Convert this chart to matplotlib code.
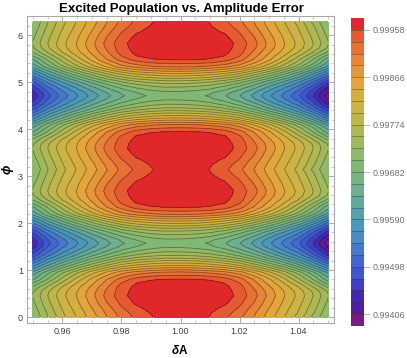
import numpy as np
import matplotlib
matplotlib.use("Agg")
import matplotlib.pyplot as plt
from matplotlib.ticker import MultipleLocator

plt.rcParams['font.family'] = ['Liberation Sans', 'DejaVu Sans']

# values, 0..pi/2 only; the picture repeats with phi
amp = [0.950, 0.955, 0.960, 0.965, 0.970, 0.975, 0.980, 0.985, 0.990, 0.995, 1.000,
       1.005, 1.010, 1.015, 1.020, 1.025, 1.030, 1.035, 1.040, 1.045, 1.050]
phi_quarter = [0, 0.1, 0.2, 0.3, 0.45, 0.55, 0.65, 0.72, 0.8, 0.87, 0.95, 1.1, 1.18, 1.25, 1.32, 1.4, 1.5, np.pi / 2]

# population as 0.99 + value / 1e5, one row per phi
pop_quarter = [
    [705, 750, 790, 823, 855, 888, 919, 940, 955, 972, 978, 972, 957, 940, 918, 888, 855, 822, 788, 745, 705],
    [710, 755, 795, 827, 860, 894, 925, 946, 960, 974, 979, 974, 960, 946, 925, 894, 860, 827, 795, 755, 710],
    [716, 761, 800, 833, 867, 902, 933, 954, 965, 977, 982, 977, 965, 954, 933, 902, 867, 833, 800, 761, 716],
    [723, 767, 806, 839, 874, 911, 941, 962, 972, 980, 984, 980, 972, 962, 941, 911, 874, 839, 806, 767, 723],
    [730, 774, 813, 845, 882, 920, 950, 970, 978, 984, 986, 984, 978, 970, 950, 920, 882, 845, 813, 774, 730],
    [725, 770, 810, 843, 879, 916, 948, 968, 976, 982, 984, 982, 976, 968, 948, 916, 879, 843, 810, 770, 725],
    [705, 752, 797, 835, 871, 908, 945, 963, 970, 975, 978, 975, 970, 963, 945, 906, 869, 833, 795, 748, 698],
    [682, 732, 780, 822, 861, 899, 936, 958, 965, 970, 972, 970, 965, 958, 936, 897, 859, 820, 777, 728, 672],
    [655, 708, 760, 808, 850, 889, 923, 945, 956, 959, 960, 959, 956, 945, 923, 887, 848, 805, 756, 703, 645],
    [640, 692, 745, 790, 832, 870, 903, 925, 935, 939, 940, 939, 935, 925, 903, 868, 829, 786, 740, 687, 630],
    [620, 673, 723, 769, 810, 847, 880, 898, 909, 915, 917, 914, 907, 896, 877, 842, 804, 762, 716, 663, 605],
    [558, 612, 659, 701, 740, 775, 805, 824, 834, 841, 842, 839, 831, 818, 797, 764, 727, 688, 645, 593, 535],
    [530, 584, 629, 669, 707, 741, 770, 789, 800, 807, 807, 804, 796, 781, 760, 727, 691, 653, 612, 560, 502],
    [503, 558, 602, 640, 677, 710, 738, 757, 768, 775, 775, 771, 763, 748, 726, 694, 658, 621, 581, 530, 472],
    [481, 536, 579, 616, 652, 684, 711, 730, 742, 748, 748, 744, 736, 720, 697, 666, 630, 594, 556, 505, 447],
    [461, 516, 558, 594, 629, 660, 687, 706, 718, 725, 724, 720, 712, 695, 671, 641, 605, 570, 533, 482, 425],
    [442, 497, 538, 572, 607, 637, 663, 682, 694, 701, 700, 696, 687, 669, 646, 615, 580, 546, 511, 460, 402],
    [435, 490, 531, 565, 599, 629, 655, 674, 686, 693, 692, 688, 679, 661, 637, 607, 572, 538, 503, 452, 395],
]

levels = [0.99383, 0.99406, 0.99429, 0.99452, 0.99475, 0.99498, 0.99521, 0.99544, 0.99567,
          0.99590, 0.99613, 0.99636, 0.99659, 0.99682, 0.99705, 0.99728, 0.99751, 0.99774,
          0.99797, 0.99820, 0.99843, 0.99866, 0.99889, 0.99912, 0.99935, 0.99958, 1.0]
cbar_ticks = [0.99406, 0.99498, 0.99590, 0.99682, 0.99774, 0.99866, 0.99958]

# one colour per band, bottom to top
band_colors = ['#7a1c88', '#541d9c', '#4428b0', '#403fc4', '#3f55cc', '#4168ce', '#4679cc',
               '#4a8ac5', '#4d96bb', '#55a0ac', '#62a89f', '#6fae90', '#78b47f', '#81b974',
               '#8fb96a', '#9fb95f', '#adb854', '#bdb64b', '#cbb445', '#d6ae40', '#e2a63c',
               '#e4973a', '#e78436', '#e77035', '#e65a32', '#e0282a']

phi_q = np.array(phi_quarter)
phi = np.concatenate([phi_q, np.pi - phi_q[-2::-1], np.pi + phi_q[1:], 2 * np.pi - phi_q[-2::-1]])
q = np.array(pop_quarter, dtype=float)
pop = np.vstack([q, q[-2::-1], q[1:], q[-2::-1]])
pop = 0.99 + pop / 1e5

W, H = 407, 358
fig = plt.figure(figsize=(W / 100, H / 100), dpi=100)
ax = fig.add_axes([27 / W, 1 - 323 / H, 307 / W, 307 / H])
cax = fig.add_axes([351 / W, 1 - 326 / H, 13 / W, 308 / H])

cf = ax.contourf(amp, phi, pop, levels=levels, colors=band_colors)
ax.contour(amp, phi, pop, levels=levels[1:-1], colors='k', linewidths=0.6, alpha=0.38)

ax.set_xlim(0.94797, 1.05203)
ax.set_ylim(-0.1277, 6.41)
ax.xaxis.set_minor_locator(MultipleLocator(0.005))
ax.yaxis.set_minor_locator(MultipleLocator(0.2))
ax.set_xticks([0.96, 0.98, 1.00, 1.02, 1.04])
ax.set_xticklabels(['0.96', '0.98', '1.00', '1.02', '1.04'])
ax.set_yticks(range(7))
ax.tick_params(which='major', direction='in', length=4, width=0.6, color='#a0a0a0',
               top=True, right=True, labelsize=6.5, labelcolor='#404040', pad=3)
ax.tick_params(which='minor', direction='in', length=2, width=0.5, color='#b4b4b4', top=True, right=True)
for s in ax.spines.values():
    s.set_color('#a8a8a8')
    s.set_linewidth(0.8)

cbar = fig.colorbar(cf, cax=cax, ticks=cbar_ticks, drawedges=True)
cbar.outline.set_visible(False)
cbar.dividers.set_color('#30303070')
cbar.dividers.set_linewidth(0.6)
cbar.ax.set_yticklabels(['%.5f' % t for t in cbar_ticks])
cbar.ax.tick_params(length=4, width=0.5, color='#a0a0a0', labelsize=6.5, labelcolor='#707070', pad=2)

fig.text(181 / W, 1 - 9 / H, "Excited Population vs. Amplitude Error", ha='center', va='center',
         fontsize=9.5, fontweight='bold')
fig.text(178.5 / W, 1 - 351 / H, "δ", ha='right', va='center', fontsize=8.5, fontweight='bold', style='italic')
fig.text(178.5 / W, 1 - 351 / H, "A", ha='left', va='center', fontsize=8.5, fontweight='bold')
fig.text(8 / W, 1 - 169 / H, "ϕ", ha='center', va='center', rotation=90, fontsize=9, fontweight='bold', style='italic')

fig.savefig("out.png", dpi=100)
